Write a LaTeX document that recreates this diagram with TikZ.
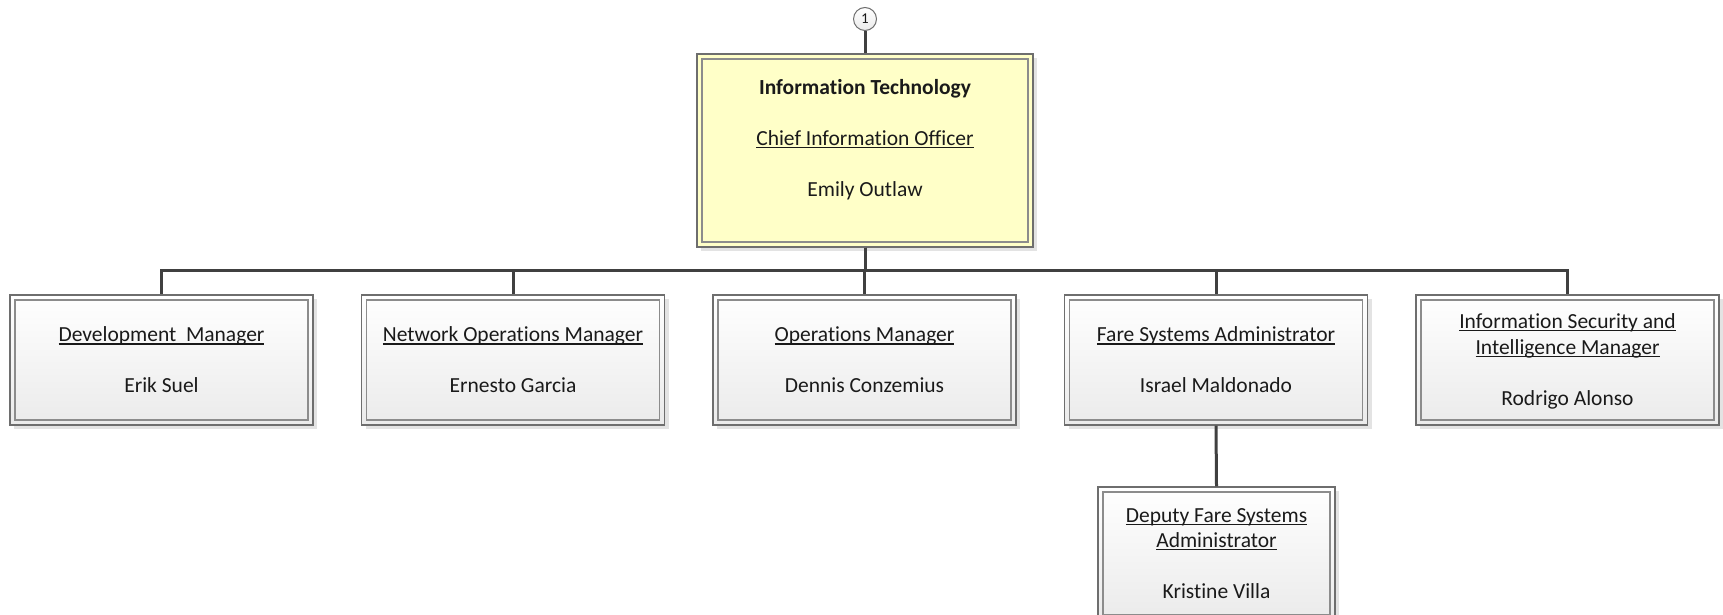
\documentclass[tikz,border=0pt]{standalone}
\usepackage{fontspec}
\setmainfont{Carlito}[Ligatures={NoCommon,NoRare}]
\newsavebox\myulbox
\newcommand\myul[1]{\sbox\myulbox{#1}\rlap{\rule[-2.8pt]{\wd\myulbox}{1.2pt}}\usebox\myulbox}
\definecolor{conn}{HTML}{404040}
\definecolor{bord}{HTML}{6E6E6E}
\definecolor{ibord}{HTML}{8C8C8C}
\definecolor{ylw}{HTML}{FFFFC8}
\definecolor{txt}{HTML}{1A1A1A}
\tikzset{
  box/.style={draw=bord, line width=1.3pt, inner sep=0pt, rectangle,
    preaction={fill=black!11, transform canvas={xshift=4pt,yshift=-4pt}},
    path picture={\draw[ibord, line width=1.1pt]
      ([shift={(5pt,-5pt)}]path picture bounding box.north west) rectangle
      ([shift={(-5pt,5pt)}]path picture bounding box.south east);}},
  graybox/.style={box, top color=white, bottom color=black!8},
  ylwbox/.style={box, fill=ylw},
  childbox/.style={graybox, minimum width=303pt, minimum height=130pt},
  label/.style={align=center, text=txt, inner sep=0pt,
    font=\fontsize{21.5}{25.5}\selectfont},
  link/.style={draw=conn, line width=3pt}
}
\begin{document}
\begin{tikzpicture}[x=1pt,y=1pt]
\useasboundingbox (0,0) rectangle (1723,-615);
\clip (0,0) rectangle (1723,-615);
% top box
\node[ylwbox, minimum width=336pt, minimum height=193pt] (it) at (865,-150.5) {};
\node[label] (itT) at (865,-139.2) {\textbf{Information Technology}\\[25.5pt]\myul{Chief Information Officer}\\[25.5pt]Emily Outlaw};
% circle
\node[circle, draw=bord, line width=1pt, top color=white, bottom color=black!8, minimum size=23pt, inner sep=0pt, text=txt, font=\fontsize{15}{17}\selectfont] (ref) at (865,-19) {1};
% children
\node[childbox] (dev) at (161.5,-360) {};
\node[childbox] (net) at (513,-360) {};
\node[childbox] (ops) at (864.5,-360) {};
\node[childbox] (fare) at (1216,-360) {};
\node[childbox] (sec) at (1567.5,-360) {};
\node[graybox, minimum width=237pt, minimum height=133pt] (dep) at (1216.5,-553.5) {};
% labels
\node[label] (devT) at (dev.center) {\myul{Development\ \ Manager}\\[25.5pt]Erik Suel};
\node[label] (netT) at (net.center) {\myul{Network Operations Manager}\\[25.5pt]Ernesto Garcia};
\node[label] (opsT) at (ops.center) {\myul{Operations Manager}\\[25.5pt]Dennis Conzemius};
\node[label] (fareT) at (fare.center) {\myul{Fare Systems Administrator}\\[25.5pt]Israel Maldonado};
\node[label] (secT) at ([yshift=-1.3pt]sec.center) {\myul{Information Security and}\\\myul{Intelligence Manager}\\[25.5pt]Rodrigo Alonso};
\node[label] (depT) at (dep.center) {\myul{Deputy Fare Systems}\\\myul{Administrator}\\[25.5pt]Kristine Villa};
% connectors
\draw[link] (ref.south) -- (it.north);
\foreach \c in {dev,net,ops,fare,sec}{
  \draw[link] (it.south) -- ++(0,-23) -| (\c.north);
}
\draw[link] (fare.south) -- (dep.north);
\end{tikzpicture}
\end{document}
